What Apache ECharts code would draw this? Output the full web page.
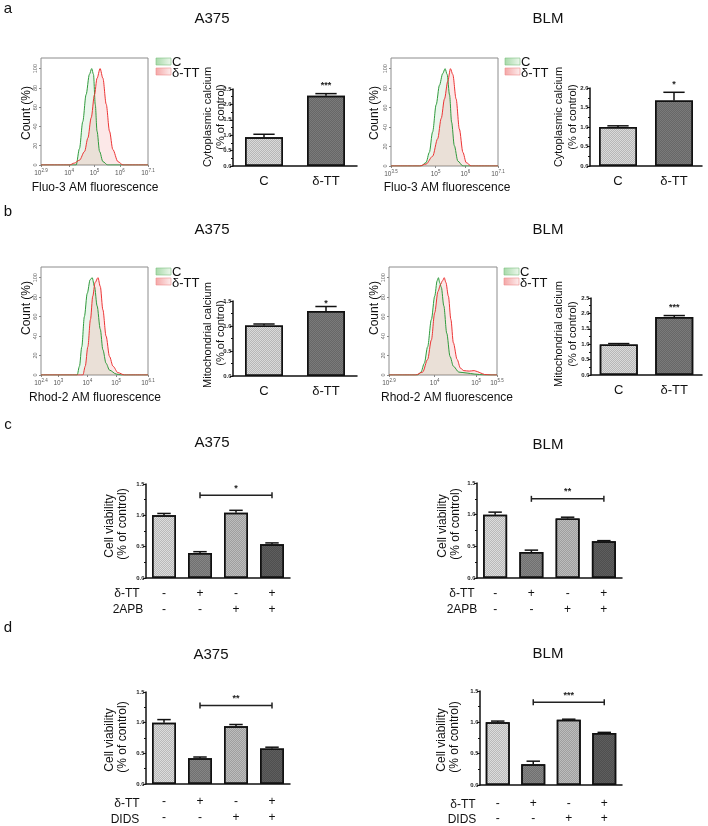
<!DOCTYPE html>
<html><head><meta charset="utf-8">
<script src="https://cdn.jsdelivr.net/npm/echarts@6/dist/echarts.min.js"></script>
<style>html,body{margin:0;padding:0;background:#fff}#c{width:708px;height:826px}</style>
</head><body><div id="c"></div>
<script>
// ---------------- DATA ----------------
// Flow-cytometry histograms: [log10(fluorescence), count %]
const histA375CytoControl = [[2.9,0],[4.28,0],[4.41,17],[4.54,45],[4.67,73],[4.80,94],[4.89,100],[4.96,94],[5.03,63],[5.10,35],[5.20,14],[5.33,3.5],[5.52,0],[7.1,0]];
const histA375CytoTreated = [[2.9,0],[4.02,0],[4.21,2],[4.41,5],[4.61,14],[4.74,28],[4.87,49],[5.0,73],[5.1,90],[5.22,100],[5.33,90],[5.46,63],[5.59,35],[5.72,16],[5.92,3.5],[6.12,0],[7.1,0]];
const histBLMCytoControl = [[3.5,0],[4.51,0],[4.68,3.5],[4.79,14],[4.90,35],[5.02,63],[5.13,83],[5.24,95],[5.32,100],[5.39,94],[5.47,73],[5.54,45],[5.63,21],[5.75,5],[5.92,0],[7.1,0]];
const histBLMCytoTreated = [[3.5,0],[4.46,0],[4.68,2],[4.90,10],[5.07,28],[5.19,49],[5.30,69],[5.41,87],[5.50,100],[5.58,94],[5.69,69],[5.80,38],[5.92,14],[6.03,3.5],[6.20,0],[7.1,0]];
const histA375MitoControl = [[2.4,0],[3.65,0],[3.73,9],[3.81,29],[3.90,60],[4.0,84],[4.1,98],[4.17,100],[4.25,91],[4.34,71],[4.45,47],[4.54,26],[4.65,12],[4.77,5],[5.0,1],[5.17,0],[6.1,0]];
const histA375MitoTreated = [[2.4,0],[3.85,0],[3.93,9],[4.02,29],[4.11,57],[4.19,81],[4.27,95],[4.37,100],[4.45,91],[4.54,67],[4.65,40],[4.77,19],[4.89,9],[5.06,2.4],[5.29,0],[6.1,0]];
const histBLMMitoControl = [[2.9,0],[3.59,0],[3.67,3],[3.75,12],[3.83,29],[3.92,57],[4.0,81],[4.06,97],[4.09,100],[4.12,95],[4.16,90],[4.22,71],[4.29,43],[4.37,19],[4.45,9],[4.58,3],[4.78,2],[4.95,1],[5.2,0],[5.5,0]];
const histBLMMitoTreated = [[2.9,0],[3.54,0],[3.71,3],[3.83,16],[3.92,36],[4.0,64],[4.08,86],[4.14,93],[4.19,97],[4.23,100],[4.27,95],[4.33,81],[4.39,57],[4.45,33],[4.54,16],[4.62,7],[4.70,4.5],[4.83,4],[4.95,4.5],[5.03,3.5],[5.11,2],[5.20,0.5],[5.36,0],[5.5,0]];
const histXTicksA375Cyto = [2.9, 4, 5, 6, 7.1];
const histXTicksBLMCyto = [3.5, 5, 6, 7.1];
const histXTicksA375Mito = [2.4, 3, 4, 5, 6.1];
const histXTicksBLMMito = [2.9, 4, 5, 5.5];
const histYTicks = [0, 20, 40, 60, 80, 100];
const legendNames = ['C', 'δ-TT'];

// Two-group bar charts
const groupCats = ['C', 'δ-TT'];
const cytoA375Mean = [0.93, 2.28];
const cytoA375Top  = [1.03, 2.35];
const cytoA375Stars = ['', '***'];
const cytoBLMMean = [1.00, 1.68];
const cytoBLMTop  = [1.03, 1.89];
const cytoBLMStars = ['', '*'];
const mitoA375Mean = [1.01, 1.30];
const mitoA375Top  = [1.04, 1.39];
const mitoA375Stars = ['', '*'];
const mitoBLMMean = [0.99, 1.88];
const mitoBLMTop  = [1.02, 1.93];
const mitoBLMStars = ['', '***'];

// Four-group bar charts
const dTTSigns = ['-', '+', '-', '+'];
const inhibitorSigns = ['-', '-', '+', '+'];
const apbA375Mean = [1.00, 0.40, 1.04, 0.54];
const apbA375Top  = [1.03, 0.42, 1.08, 0.56];
const apbA375Bracket = [1, 3, 1.32, '*'];
const apbBLMMean = [1.00, 0.41, 0.94, 0.58];
const apbBLMTop  = [1.04, 0.44, 0.96, 0.59];
const apbBLMBracket = [1, 3, 1.25, '**'];
const didsA375Mean = [1.00, 0.42, 0.94, 0.58];
const didsA375Top  = [1.05, 0.44, 0.97, 0.60];
const didsA375Bracket = [1, 3, 1.28, '**'];
const didsBLMMean = [1.00, 0.33, 1.04, 0.83];
const didsBLMTop  = [1.02, 0.38, 1.05, 0.84];
const didsBLMBracket = [1, 3, 1.32, '***'];

// ---------------- STYLE / BUILD ----------------
const FONT = '"Liberation Sans", Arial, Helvetica, sans-serif';
const option = { backgroundColor: '#fff', animation: false, grid: [], xAxis: [], yAxis: [], series: [], graphic: [] };
const G = option.graphic;

function txt(t, x, y, size, opts) {
  opts = opts || {};
  G.push({ type: 'text', x: x, y: y, rotation: opts.rot || 0, silent: true,
    style: { text: t, font: (opts.weight || 'normal') + ' ' + size + 'px ' + FONT, fill: opts.color || '#111',
      textAlign: opts.align || 'center', textVerticalAlign: 'middle', align: opts.align || 'center', verticalAlign: 'middle' } });
}

function addHist(c) {
  const gi = option.grid.length;
  option.grid.push({ left: c.rect[0], top: c.rect[1], width: c.rect[2], height: c.rect[3], show: true, borderColor: '#8c8c8c', borderWidth: 1, backgroundColor: '#fff' });
  option.xAxis.push({ gridIndex: gi, type: 'value', min: c.xmin, max: c.xmax,
    axisLine: { show: false }, splitLine: { show: false },
    axisTick: { show: true, length: 2, customValues: c.xticks, lineStyle: { color: '#888' } },
    axisLabel: { customValues: c.xticks, margin: 3, showMinLabel: true, showMaxLabel: true,
      formatter: v => '{b|10}{s|' + (Math.round(v * 10) / 10) + '}',
      rich: { b: { fontSize: 6.5, color: '#555', fontFamily: FONT, verticalAlign: 'bottom', lineHeight: 9 },
              s: { fontSize: 4.5, color: '#555', fontFamily: FONT, verticalAlign: 'top', lineHeight: 9 } } } });
  option.yAxis.push({ gridIndex: gi, type: 'value', min: 0, max: 111,
    axisLine: { show: false }, splitLine: { show: false },
    axisTick: { show: true, length: 2, customValues: histYTicks, lineStyle: { color: '#888' } },
    axisLabel: { customValues: histYTicks, rotate: 90, fontSize: 5.5, color: '#666', margin: 3, fontFamily: FONT } });
  const mk = (data, line, area, name) => ({ type: 'line', name: name, xAxisIndex: gi, yAxisIndex: gi, data: data,
    showSymbol: false, smooth: 0.3, smoothMonotone: 'x', lineStyle: { color: line, width: 1 },
    areaStyle: { color: area }, silent: true, z: 3 });
  option.series.push(mk(c.control, '#2f9a3c', 'rgba(90,180,100,0.18)', legendNames[0]));
  option.series.push(mk(c.treated, '#ec3434', 'rgba(236,90,90,0.2)', legendNames[1]));
  // legend swatches
  const lx = c.legend[0], ly = c.legend[1];
  G.push({ type: 'rect', silent: true, shape: { x: lx, y: ly, width: 15, height: 7 },
    style: { fill: new echarts.graphic.LinearGradient(0, 0, 1, 0, [{ offset: 0, color: '#a6d9a8' }, { offset: 1, color: '#eef8ee' }]), stroke: '#7cc07f', lineWidth: 0.6 } });
  G.push({ type: 'rect', silent: true, shape: { x: lx, y: ly + 10, width: 15, height: 7 },
    style: { fill: new echarts.graphic.LinearGradient(0, 0, 1, 0, [{ offset: 0, color: '#f4a6a6' }, { offset: 1, color: '#fdeeee' }]), stroke: '#ef8f8f', lineWidth: 0.6 } });
  txt(legendNames[0], lx + 16, ly + 4, 13, { align: 'left' });
  txt(legendNames[1], lx + 16, ly + 15, 13, { align: 'left' });
  txt('Count (%)', c.ylab[0], c.ylab[1], 12, { rot: Math.PI / 2 });
  txt(c.xname, c.xlab[0], c.xlab[1], 12);
}

function errSeries(gi, means, tops, stars, barW, starOff) {
  return { type: 'custom', xAxisIndex: gi, yAxisIndex: gi, z: 5, silent: true,
    data: means.map((m, i) => [i, m, tops[i]]), encode: { x: 0, y: [1, 2] },
    renderItem: function (params, api) {
      const i = api.value(0), m = api.value(1), t = api.value(2);
      const p0 = api.coord([i, m]), p1 = api.coord([i, t]);
      const hw = barW * 0.28;
      const ch = [
        { type: 'line', shape: { x1: p0[0], y1: p0[1], x2: p1[0], y2: p1[1] }, style: { stroke: '#111', lineWidth: 1.5 } },
        { type: 'line', shape: { x1: p1[0] - hw, y1: p1[1], x2: p1[0] + hw, y2: p1[1] }, style: { stroke: '#111', lineWidth: 1.5 } }
      ];
      const s = stars[params.dataIndex];
      if (s) ch.push({ type: 'text', x: p1[0], y: p1[1] - starOff,
        style: { text: s, font: 'bold 9px ' + FONT, fill: '#222', textAlign: 'center', textVerticalAlign: 'middle', align: 'center', verticalAlign: 'middle' } });
      return { type: 'group', children: ch };
    } };
}

const checker = { symbol: 'rect', symbolSize: 1, dashArrayX: [[1, 1], [0, 1, 1, 0]], dashArrayY: [1, 0], color: 'rgba(0,0,0,0.16)' };

function addBars(c) {
  const gi = option.grid.length;
  option.grid.push({ left: c.rect[0], top: c.rect[1], width: c.rect[2], height: c.rect[3] });
  option.xAxis.push({ gridIndex: gi, type: 'category', data: c.cats,
    axisLine: { lineStyle: { color: '#111', width: 1.5 } },
    axisTick: { alignWithLabel: true, length: 3, lineStyle: { color: '#111', width: 1 } },
    axisLabel: Object.assign({ color: '#111', fontSize: c.catFont || 13, fontFamily: FONT, margin: c.catMargin, interval: 0 }, c.catLabel || {}) });
  option.yAxis.push({ gridIndex: gi, type: 'value', min: 0, max: c.max, interval: 0.5,
    axisLine: { show: true, lineStyle: { color: '#111', width: 1.5 } },
    axisTick: { show: true, length: 3, lineStyle: { color: '#111', width: 1 } },
    minorTick: { show: true, splitNumber: 2, length: 2, lineStyle: { color: '#111' } },
    splitLine: { show: false },
    axisLabel: { fontSize: 6, fontWeight: 'bold', color: '#222', margin: 1.5, fontFamily: FONT, formatter: v => v.toFixed(1) } });
  option.series.push({ type: 'bar', xAxisIndex: gi, yAxisIndex: gi, barWidth: c.barW, silent: true, z: 2,
    data: c.means.map((v, i) => ({ value: v, itemStyle: { color: c.colors[i], decal: checker } })),
    itemStyle: { borderColor: '#111', borderWidth: 1.5 } });
  option.series.push(errSeries(gi, c.means, c.tops, c.stars || [], c.barW, c.starOff || 8));
  if (c.bracket) {
    const b = c.bracket;
    option.series.push({ type: 'custom', xAxisIndex: gi, yAxisIndex: gi, z: 5, silent: true,
      data: [[b[0], b[2]]], encode: { x: 0, y: 1 },
      renderItem: function (params, api) {
        const p1 = api.coord([b[0], b[2]]), p2 = api.coord([b[1], b[2]]);
        return { type: 'group', children: [
          { type: 'line', shape: { x1: p1[0], y1: p1[1], x2: p2[0], y2: p2[1] }, style: { stroke: '#222', lineWidth: 1.5 } },
          { type: 'line', shape: { x1: p1[0], y1: p1[1] - 3, x2: p1[0], y2: p1[1] + 3 }, style: { stroke: '#222', lineWidth: 1.5 } },
          { type: 'line', shape: { x1: p2[0], y1: p2[1] - 3, x2: p2[0], y2: p2[1] + 3 }, style: { stroke: '#222', lineWidth: 1.5 } },
          { type: 'text', x: (p1[0] + p2[0]) / 2, y: p1[1] - 7,
            style: { text: b[3], font: 'bold 9px ' + FONT, fill: '#222', textAlign: 'center', textVerticalAlign: 'middle', align: 'center', verticalAlign: 'middle' } }
        ] };
      } });
  }
  if (c.yname) {
    txt(c.yname[0], c.ynamePos[0], c.ynamePos[1], c.ynameFont, { rot: Math.PI / 2 });
    txt(c.yname[1], c.ynamePos[2], c.ynamePos[3], c.ynameFont, { rot: Math.PI / 2 });
  }
}

const twoColors = ['#dadada', '#7a7a7a'];
const fourColors = ['#dcdcdc', '#858585', '#bdbdbd', '#5e5e5e'];

// Panel letters & titles
txt('a', 8, 9, 15, {}); txt('b', 8, 212, 15, {}); txt('c', 8, 425, 15, {}); txt('d', 8, 628, 15, {});
txt('A375', 212, 19, 15); txt('BLM', 548, 19, 15);
txt('A375', 212, 230, 15); txt('BLM', 548, 230, 15);
txt('A375', 212, 443, 15); txt('BLM', 548, 445, 15);
txt('A375', 211, 655, 15); txt('BLM', 548, 654, 15);

// Panel a
addHist({ rect: [41, 58, 107, 107], xmin: 2.9, xmax: 7.1, xticks: histXTicksA375Cyto, control: histA375CytoControl, treated: histA375CytoTreated,
  legend: [156, 58], ylab: [27, 113], xname: 'Fluo-3 AM fluorescence', xlab: [95, 188] });
addHist({ rect: [391, 58, 107, 108], xmin: 3.5, xmax: 7.1, xticks: histXTicksBLMCyto, control: histBLMCytoControl, treated: histBLMCytoTreated,
  legend: [505, 58], ylab: [375, 113], xname: 'Fluo-3 AM fluorescence', xlab: [447, 188] });
addBars({ rect: [233, 89, 124, 77], max: 2.5, cats: groupCats, means: cytoA375Mean, tops: cytoA375Top, stars: cytoA375Stars,
  colors: twoColors, barW: 38, catMargin: 9, yname: ['Cytoplasmic calcium', '(% of control)'], ynamePos: [208, 117, 221, 117], ynameFont: 11 });
addBars({ rect: [590, 88, 112, 78], max: 2.0, cats: groupCats, means: cytoBLMMean, tops: cytoBLMTop, stars: cytoBLMStars,
  colors: twoColors, barW: 38, catMargin: 9, yname: ['Cytoplasmic calcium', '(% of control)'], ynamePos: [559, 117, 573, 117], ynameFont: 11 });

// Panel b
addHist({ rect: [41, 267, 107, 108], xmin: 2.4, xmax: 6.1, xticks: histXTicksA375Mito, control: histA375MitoControl, treated: histA375MitoTreated,
  legend: [156, 268], ylab: [27, 308], xname: 'Rhod-2 AM fluorescence', xlab: [95, 398] });
addHist({ rect: [389, 267, 108, 108], xmin: 2.9, xmax: 5.5, xticks: histXTicksBLMMito, control: histBLMMitoControl, treated: histBLMMitoTreated,
  legend: [504, 268], ylab: [375, 308], xname: 'Rhod-2 AM fluorescence', xlab: [447, 398] });
addBars({ rect: [233, 301, 124, 75], max: 1.5, cats: groupCats, means: mitoA375Mean, tops: mitoA375Top, stars: mitoA375Stars, starOff: 3,
  colors: twoColors, barW: 38, catMargin: 9, yname: ['Mitochondrial calcium', '(% of control)'], ynamePos: [208, 335, 221, 333], ynameFont: 11 });
addBars({ rect: [591, 298, 111, 77], max: 2.5, cats: groupCats, means: mitoBLMMean, tops: mitoBLMTop, stars: mitoBLMStars,
  colors: twoColors, barW: 38, catMargin: 9, yname: ['Mitochondrial calcium', '(% of control)'], ynamePos: [559, 334, 573, 334], ynameFont: 11 });

// Panels c and d
const signCats = dTTSigns.map((s, i) => s + '\n' + inhibitorSigns[i]);
const signLabel = { fontSize: 12, lineHeight: 16 };
addBars({ rect: [146, 484, 144, 94], max: 1.5, cats: signCats, means: apbA375Mean, tops: apbA375Top, bracket: apbA375Bracket,
  colors: fourColors, barW: 24, catMargin: 8, catLabel: signLabel, yname: ['Cell viability', '(% of control)'], ynamePos: [110, 526, 123, 524], ynameFont: 12 });
addBars({ rect: [477, 483, 145, 95], max: 1.5, cats: signCats, means: apbBLMMean, tops: apbBLMTop, bracket: apbBLMBracket,
  colors: fourColors, barW: 24, catMargin: 8, catLabel: signLabel, yname: ['Cell viability', '(% of control)'], ynamePos: [443, 526, 456, 524], ynameFont: 12 });
addBars({ rect: [146, 692, 144, 94], max: 1.5, cats: signCats, means: didsA375Mean, tops: didsA375Top, bracket: didsA375Bracket,
  colors: fourColors, barW: 24, catMargin: 10, catLabel: signLabel, yname: ['Cell viability', '(% of control)'], ynamePos: [110, 740, 123, 737], ynameFont: 12 });
addBars({ rect: [480, 691, 142, 95], max: 1.5, cats: signCats, means: didsBLMMean, tops: didsBLMTop, bracket: didsBLMBracket,
  colors: fourColors, barW: 24, catMargin: 11, catLabel: { fontSize: 12, lineHeight: 15 }, yname: ['Cell viability', '(% of control)'], ynamePos: [442, 740, 455, 737], ynameFont: 12 });

// row labels
txt('δ-TT', 127, 594, 12); txt('2APB', 128, 610, 12);
txt('δ-TT', 462, 594, 12); txt('2APB', 462, 610, 12);
txt('δ-TT', 127, 804, 12); txt('DIDS', 125, 820, 12);
txt('δ-TT', 463, 805, 12); txt('DIDS', 462, 820, 12);

const chart = echarts.init(document.getElementById('c'), null, { renderer: 'canvas' });
chart.setOption(option);
</script>
</body></html>
